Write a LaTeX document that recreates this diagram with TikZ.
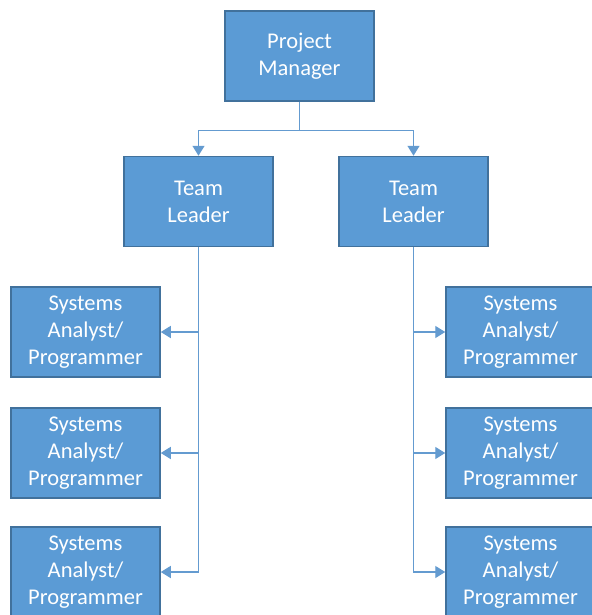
\documentclass[tikz,border=0pt]{standalone}
\usepackage{fontspec}
\setmainfont{Carlito}
\usepackage{tikz}
\usetikzlibrary{arrows.meta,positioning}
\definecolor{boxblau}{RGB}{91,155,213}
\definecolor{randblau}{RGB}{65,113,156}
\definecolor{linienblau}{RGB}{100,155,208}
\tikzset{
  kasten/.style={draw=randblau,line width=1.5pt,fill=boxblau,text=white,
    minimum width=149pt,minimum height=90pt,inner sep=0pt,align=center,
    font=\fontsize{22.5}{27}\selectfont},
  linie/.style={draw=linienblau,line width=1.4pt},
  pfeil/.style={linie,-{Triangle[length=10pt,width=12pt]}}
}
\begin{document}
\begin{tikzpicture}[x=1pt,y=-1pt]
\useasboundingbox (0,0) rectangle (591,615);
%Spalten und Zeilen der Kaesten
  \pgfmathsetmacro{\xL}{85.5}
  \pgfmathsetmacro{\xR}{520.5}
\node[kasten] (pm) at (299.5,56) {Project\\Manager};
\node[kasten] (tlL) at (198.5,201.5) {Team\\Leader};
\node[kasten] (tlR) at (413.5,201.5) {Team\\Leader};
\foreach \i/\y in {1/332,2/453,3/572}{
\node[kasten] (saL\i) at (\xL,\y) {Systems\\Analyst/\\Programmer};
\node[kasten] (saR\i) at (\xR,\y) {Systems\\Analyst/\\Programmer};
\draw[pfeil] (tlL.south) |- (saL\i.east);
\draw[pfeil] (tlR.south) |- (saR\i.west);
}
\draw[pfeil] (pm.south) -- ++(0,29) -| (tlL.north);
\draw[pfeil] (pm.south) -- ++(0,29) -| (tlR.north);
\end{tikzpicture}
\end{document}
